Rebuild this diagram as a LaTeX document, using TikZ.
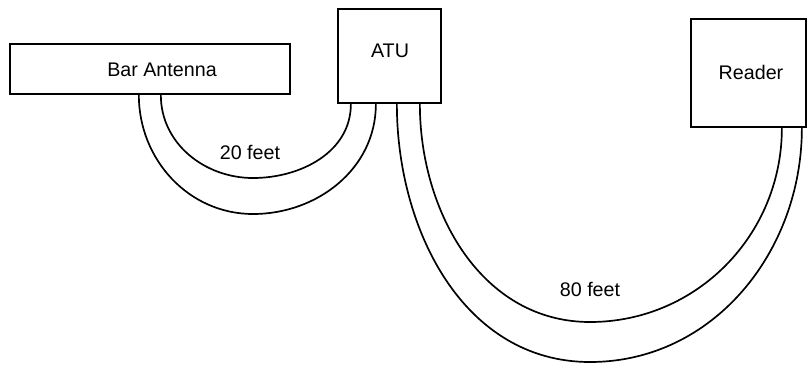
\documentclass[tikz,border=0pt]{standalone}
\usepackage{fontspec}
\setmainfont{Liberation Sans}
\usetikzlibrary{calc}
\begin{document}
\begin{tikzpicture}[x=0.025cm, y=-0.025cm,
    unit/.style={draw, line width=1.6pt, inner sep=0pt},
    cable/.style={line width=1.2pt},
    every node/.append style={font=\fontsize{14}{16}\selectfont}]
    \useasboundingbox (0,0) rectangle (807,364);
    % boxes
    \node[unit, minimum width=7cm, minimum height=1.25cm] (bar) at (150,69) {};
    \node[unit, minimum width=2.575cm, minimum height=2.35cm] (atu) at (389.5,56) {};
    \node[unit, minimum width=2.875cm, minimum height=2.7cm] (reader) at (748.5,73) {};
    \node (barlbl) at (162,70) {Bar Antenna};
    \node (atulbl) at (390,51) {ATU};
    \node (readerlbl) at (751,72) {Reader};
    % cable ends
    \coordinate (b1) at ($(bar.south west)+(130,0)$);
    \coordinate (b2) at ($(bar.south west)+(152,0)$);
    \coordinate (a1) at ($(atu.south west)+(14,0)$);
    \coordinate (a2) at ($(atu.south west)+(39,0)$);
    \coordinate (a3) at ($(atu.south west)+(60,0)$);
    \coordinate (a4) at ($(atu.south west)+(83,0)$);
    \coordinate (r1) at ($(reader.south west)+(92,0)$);
    \coordinate (r2) at ($(reader.south west)+(112,0)$);
    \coordinate (s1) at (253,214);
    \coordinate (s2) at (253,178);
    \coordinate (l1) at (590,362);
    \coordinate (l2) at (590,322);
    % 20 feet cable
    \draw[cable] (b1) to[out=-90,in=180] (s1) to[out=0,in=-90] (a2);
    \draw[cable] (b2) to[out=-90,in=180] (s2) to[out=0,in=-90] (a1);
    \node (short) at (250,152) {20 feet};
    % 80 feet cable
    \draw[cable] (a3) to[out=-90,in=180] (l1) to[out=0,in=-90] (r2);
    \draw[cable] (a4) to[out=-90,in=180] (l2) to[out=0,in=-90] (r1);
    \node (long) at (590,289) {80 feet};
\end{tikzpicture}
\end{document}
